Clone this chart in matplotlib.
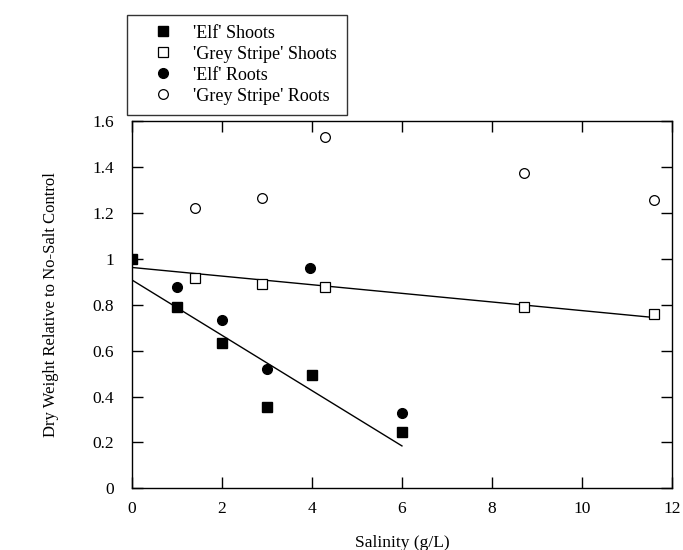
import numpy as np
import matplotlib
matplotlib.use("Agg")
import matplotlib.pyplot as plt

plt.rcParams['font.family'] = ['Liberation Serif', 'DejaVu Serif']

# data
elf_x = [0, 1, 2, 3, 4, 6]
elf_shoots = [1.0, 0.79, 0.635, 0.355, 0.495, 0.245]
elf_roots_x = [1, 2, 3, 3.95, 6]
elf_roots = [0.875, 0.735, 0.52, 0.96, 0.33]
gs_x = [1.4, 2.9, 4.3, 8.7, 11.6]
gs_shoots = [0.915, 0.89, 0.875, 0.79, 0.76]
gs_roots = [1.22, 1.265, 1.53, 1.375, 1.255]

fig = plt.figure(figsize=(6.83, 5.5), dpi=100)
ax = fig.add_axes([0.193, 0.112, 0.791, 0.668])

ms = 7
h1, = ax.plot(elf_x, elf_shoots, 's', color='black', ms=ms, label="'Elf' Shoots")
h2, = ax.plot(gs_x, gs_shoots, 's', mfc='white', mec='black', mew=0.9, ms=ms,
              label="'Grey Stripe' Shoots")
h3, = ax.plot(elf_roots_x, elf_roots, 'o', color='black', ms=ms, label="'Elf' Roots")
h4, = ax.plot(gs_x, gs_roots, 'o', mfc='white', mec='black', mew=0.9, ms=ms,
              label="'Grey Stripe' Roots")

# regression lines for shoots (control point at 0 included)
m, b = np.polyfit(elf_x, elf_shoots, 1)
xx = np.array([0, max(elf_x)])
ax.plot(xx, m * xx + b, color='black', lw=1, zorder=1)

gx = [0] + gs_x
gy = [1.0] + gs_shoots
m2, b2 = np.polyfit(gx, gy, 1)
xx2 = np.array([0, max(gx)])
ax.plot(xx2, m2 * xx2 + b2, color='black', lw=1, zorder=1)

ax.set_xlim(0, 12)
ax.set_ylim(0, 1.6)
ax.set_xticks(range(0, 13, 2))
ax.set_yticks([0, 0.2, 0.4, 0.6, 0.8, 1.0, 1.2, 1.4, 1.6])
ax.set_yticklabels(['0', '0.2', '0.4', '0.6', '0.8', '1', '1.2', '1.4', '1.6'])
ax.tick_params(direction='in', length=8, width=1, top=True, right=True,
               labelsize=12.5)
ax.tick_params(axis='x', pad=9)
ax.tick_params(axis='y', pad=13)
for s in ax.spines.values():
    s.set_linewidth(1)

ax.set_xlabel('Salinity (g/L)', fontsize=12.5, labelpad=13)
ax.set_ylabel('Dry Weight Relative to No-Salt Control', fontsize=12, labelpad=24)

leg = fig.legend(handles=[h1, h2, h3, h4], loc='upper left',
                 bbox_to_anchor=(0.186, 0.973), borderaxespad=0,
                 fontsize=13, frameon=True,
                 fancybox=False, edgecolor='black', handletextpad=0.2,
                 borderpad=0.55, labelspacing=0.22, handlelength=2.9)
leg.get_frame().set_linewidth(1)

fig.savefig('out.png', dpi=100)
